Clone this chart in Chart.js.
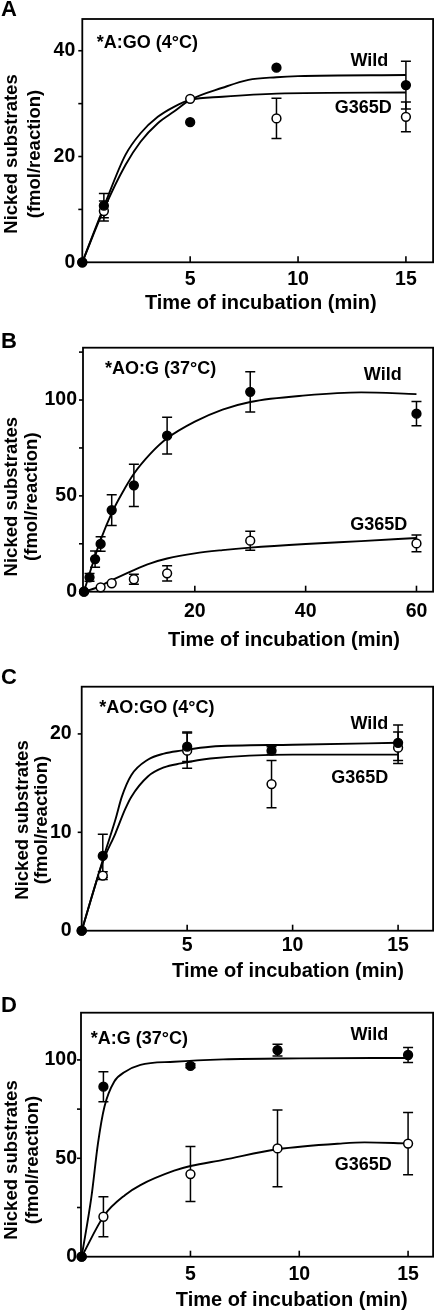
<!DOCTYPE html>
<html>
<head>
<meta charset="utf-8">
<script src="https://cdn.jsdelivr.net/npm/chart.js@4.4.1/dist/chart.umd.min.js"></script>
<style>
  html, body { margin: 0; padding: 0; background: #fff; }
  #page { position: relative; width: 439px; height: 1310px; overflow: hidden; }
  canvas { position: absolute; left: 0; }
</style>
</head>
<body>
<div id="page">
  <canvas id="chartA" width="439" height="320" style="top:0px"></canvas>
  <canvas id="chartB" width="439" height="330" style="top:320px"></canvas>
  <canvas id="chartC" width="439" height="330" style="top:650px"></canvas>
  <canvas id="chartD" width="439" height="330" style="top:980px"></canvas>
</div>
<script>
/* ========= DATA ========= */
// A  *A:GO (4°C)
const aTime = [0, 1, 5, 9, 15];
const aWild = [0, 10.7, 26.5, 36.8, 33.5];
const aWildErr = [0, 2.3, 0, 0, 4.5];
const aMut = [0, 9.7, 30.9, 27.2, 27.5];
const aMutErr = [0, 1.9, 0, 3.8, 2.8];
const aWildFitX = [0, 1, 2, 2.7, 3.5, 4.25, 5, 6.5, 7.7, 9, 10, 15];
const aWildFitY = [0, 10, 18.4, 22.8, 26.3, 28.5, 30.7, 33, 34.5, 35, 35.2, 35.4];
const aMutFitX = [0, 1, 2, 2.7, 3.5, 4.25, 5, 6.5, 9, 15];
const aMutFitY = [0, 10.5, 20.3, 24.4, 27.5, 29.4, 30.7, 31.3, 31.9, 32.1];

// B  *AO:G (37°C)
const bTime = [0, 1, 2, 3, 5, 9, 15, 30, 60];
const bWild = [0, 7.5, 17, 24.9, 42.6, 55.5, 81.4, 104.3, 92.9];
const bWildErr = [0, 2, 4.2, 3.8, 8, 11, 9.6, 10.5, 6.3];
const bMutTime = [0, 3, 5, 9, 15, 30, 60];
const bMut = [0, 2.3, 4.4, 6.5, 9.6, 26.6, 25.2];
const bMutErr = [0, 0, 0, 2.6, 4, 5, 4.4];
const bWildFitX = [0, 1, 2, 3, 5, 7, 9, 12, 15, 20, 25, 30, 40, 50, 60];
const bWildFitY = [0, 9.5, 18.5, 27, 41, 52, 61.5, 72, 80, 88.7, 95, 99, 102.4, 104, 103.1];
const bMutFitX = [0, 2, 5, 9, 12, 15, 20, 25, 30, 40, 50, 60];
const bMutFitY = [0, 1.8, 6, 11.3, 14.8, 17.3, 20, 21.7, 23, 24.9, 26.4, 28];

// C  *AO:GO (4°C)
const cTime = [0, 1, 5, 9, 15];
const cWild = [0, 7.6, 18.7, 18.3, 19.1];
const cWildErr = [0, 2.2, 1.5, 0.4, 1.8];
const cMut = [0, 5.6, 18.3, 14.9, 18.6];
const cMutErr = [0, 0.4, 1.8, 2.4, 1.6];
const cWildFitX = [0, 1.1, 1.6, 1.9, 2.35, 3.15, 3.9, 4.7, 6.1, 10, 15];
const cWildFitY = [0, 7.9, 11.3, 13.6, 15.8, 17.4, 18, 18.3, 18.7, 18.9, 19.1];
const cMutFitX = [0, 1, 1.6, 2.05, 2.35, 3.15, 3.9, 4.7, 6.1, 10, 15];
const cMutFitY = [0, 7, 9.9, 12.3, 13.6, 15.7, 16.6, 17, 17.5, 17.9, 17.9];

// D  *A:G (37°C)
const dTime = [0, 1, 5, 9, 15];
const dWild = [0, 86.4, 97, 105, 102.5];
const dWildErr = [0, 7.6, 1, 3, 3.8];
const dMut = [0, 20.3, 42, 55, 57.5];
const dMutErr = [0, 10.2, 14, 19.5, 15.8];
const dWildFitX = [0, 0.45, 0.75, 1.05, 1.5, 2, 2.7, 4.25, 6.5, 10, 15];
const dWildFitY = [0, 30.5, 57.6, 76.3, 89, 94, 97.5, 99.1, 100.3, 100.8, 101];
const dMutFitX = [0, 1.05, 2, 2.7, 4.25, 5, 6.5, 9, 12, 13, 15];
const dMutFitY = [0, 21.2, 31.4, 36.4, 43.7, 46.1, 49.2, 54.6, 57.6, 58.1, 57.6];

/* ========= DRAWING ========= */
const FONT = '"Liberation Sans", Arial, Helvetica, sans-serif';

const panelPlugin = {
  id: "panel",
  beforeDatasetsDraw(chart, args, o) {
    const { ctx, chartArea: a, scales: { x, y } } = chart;
    ctx.save();
    ctx.strokeStyle = "#000";
    ctx.lineWidth = 1.8;
    ctx.strokeRect(a.left, a.top, a.right - a.left, a.bottom - a.top);

    ctx.lineWidth = 1.6;
    y.ticks.forEach(t => {
      const py = y.getPixelForValue(t.value);
      ctx.beginPath(); ctx.moveTo(a.left - 4, py); ctx.lineTo(a.left, py); ctx.stroke();
    });
    x.ticks.forEach(t => {
      if (t.value <= 0) return;
      const px = x.getPixelForValue(t.value);
      ctx.beginPath(); ctx.moveTo(px, a.bottom); ctx.lineTo(px, a.bottom - 6); ctx.stroke();
    });

    // error bars
    ctx.lineWidth = 1.5;
    chart.data.datasets.forEach(ds => {
      if (!ds.errors) return;
      ds.data.forEach((p, i) => {
        const e = ds.errors[i];
        if (!e) return;
        const px = x.getPixelForValue(p.x);
        const top = y.getPixelForValue(p.y + e);
        const bot = y.getPixelForValue(p.y - e);
        ctx.beginPath();
        ctx.moveTo(px, top); ctx.lineTo(px, bot);
        ctx.moveTo(px - 5, top); ctx.lineTo(px + 5, top);
        ctx.moveTo(px - 5, bot); ctx.lineTo(px + 5, bot);
        ctx.stroke();
      });
    });
    ctx.restore();
  },
  afterDraw(chart, args, o) {
    const ctx = chart.ctx;
    ctx.save();
    ctx.fillStyle = "#000";
    ctx.textBaseline = "middle";

    ctx.font = `bold 22px ${FONT}`;
    ctx.textAlign = "left";
    ctx.fillText(o.letter, o.letterPos[0], o.letterPos[1]);

    ctx.font = `bold 18px ${FONT}`;
    ctx.fillText(o.note, o.notePos[0], o.notePos[1]);
    ctx.textAlign = "right";
    ctx.fillText("Wild", o.wildPos[0], o.wildPos[1]);
    ctx.fillText("G365D", o.mutPos[0], o.mutPos[1]);

    ctx.textAlign = "center";
    ctx.font = `bold 20px ${FONT}`;
    ctx.fillText("Time of incubation (min)", o.xTitle[0], o.xTitle[1]);

    ctx.font = `bold 18.5px ${FONT}`;
    ["Nicked substrates", "(fmol/reaction)"].forEach((line, i) => {
      ctx.save();
      ctx.translate(o.yTitle[i], o.yTitle[2]);
      ctx.rotate(-Math.PI / 2);
      ctx.fillText(line, 0, 0);
      ctx.restore();
    });
    ctx.restore();
  }
};

const pts = (xs, ys) => xs.map((x, i) => ({ x, y: ys[i] }));

function markers(xs, ys, errs, fill) {
  return {
    data: pts(xs, ys),
    errors: errs,
    showLine: false,
    pointRadius: 4.4,
    pointHoverRadius: 4.4,
    pointBackgroundColor: fill,
    pointBorderColor: "#000",
    pointBorderWidth: 1.5,
    clip: false
  };
}

function curve(xs, ys) {
  return {
    data: pts(xs, ys),
    showLine: true,
    pointRadius: 0,
    borderColor: "#000",
    borderWidth: 1.9,
    cubicInterpolationMode: "monotone",
    fill: false
  };
}

function makePanel(id, p) {
  const H = document.getElementById(id).height;
  const tickFont = { family: FONT, size: 19.5, weight: "bold" };
  return new Chart(document.getElementById(id), {
    type: "scatter",
    data: {
      datasets: [
        markers(p.wildX, p.wild, p.wildErr, "#000"),
        markers(p.mutX, p.mut, p.mutErr, "#fff"),
        curve(p.wildFitX, p.wildFitY),
        curve(p.mutFitX, p.mutFitY)
      ]
    },
    options: {
      responsive: false,
      animation: false,
      devicePixelRatio: 1,
      events: [],
      layout: { padding: { top: p.area[1], right: 439 - p.area[2], left: 0, bottom: 0 } },
      plugins: {
        legend: { display: false },
        tooltip: { enabled: false },
        panel: p.text
      },
      scales: {
        x: {
          type: "linear",
          min: p.xRange[0], max: p.xRange[1],
          afterFit: s => { s.height = H - p.area[3]; },
          grid: { display: false, drawTicks: false },
          border: { display: false },
          ticks: {
            stepSize: p.xStep, includeBounds: false, autoSkip: false, maxRotation: 0,
            padding: p.xPad, color: "#000", font: tickFont,
            callback: v => (v > 0 ? String(v) : "")
          }
        },
        y: {
          type: "linear",
          min: 0, max: p.yMax,
          afterFit: s => { s.width = p.area[0]; },
          grid: { display: false, drawTicks: false },
          border: { display: false },
          ticks: {
            stepSize: p.yStep, includeBounds: false, autoSkip: false,
            padding: p.yPad, color: "#000", font: tickFont,
            callback: v => (p.yLabels.includes(v) ? String(v) : "")
          }
        }
      }
    },
    plugins: [panelPlugin]
  });
}

makePanel("chartA", {
  wildX: aTime, wild: aWild, wildErr: aWildErr,
  mutX: aTime, mut: aMut, mutErr: aMutErr,
  wildFitX: aWildFitX, wildFitY: aWildFitY, mutFitX: aMutFitX, mutFitY: aMutFitY,
  area: [82.3, 19, 436.7, 262.3],
  xRange: [0, 16.26], xStep: 5, xPad: 6,
  yMax: 46, yStep: 10, yLabels: [0, 20, 40], yPad: 7,
  text: {
    letter: "A", letterPos: [1, 10],
    note: "*A:GO (4\u00B0C)", notePos: [96.7, 43.3],
    wildPos: [388.3, 61], mutPos: [391.7, 108.3],
    xTitle: [260.8, 303], yTitle: [11.7, 35, 154]
  }
});

makePanel("chartB", {
  wildX: bTime, wild: bWild, wildErr: bWildErr,
  mutX: bMutTime, mut: bMut, mutErr: bMutErr,
  wildFitX: bWildFitX, wildFitY: bWildFitY, mutFitX: bMutFitX, mutFitY: bMutFitY,
  area: [83, 27.7, 436.7, 271.7],
  xRange: [-0.18, 63], xStep: 20, xPad: 8,
  yMax: 127.3, yStep: 25, yLabels: [0, 50, 100], yPad: 6,
  text: {
    letter: "B", letterPos: [1, 22],
    note: "*AO:G (37\u00B0C)", notePos: [105, 49.3],
    wildPos: [401.7, 55], mutPos: [407.3, 205],
    xTitle: [284, 320], yTitle: [11.7, 31.7, 176.7]
  }
});

makePanel("chartC", {
  wildX: cTime, wild: cWild, wildErr: cWildErr,
  mutX: cTime, mut: cMut, mutErr: cMutErr,
  wildFitX: cWildFitX, wildFitY: cWildFitY, mutFitX: cMutFitX, mutFitY: cMutFitY,
  area: [81.7, 36.7, 436, 280.7],
  xRange: [0, 16.66], xStep: 5, xPad: 3,
  yMax: 24.8, yStep: 10, yLabels: [0, 10, 20], yPad: 10,
  text: {
    letter: "C", letterPos: [1, 28],
    note: "*AO:GO (4\u00B0C)", notePos: [99.3, 58.3],
    wildPos: [388.3, 74], mutPos: [388.3, 128.3],
    xTitle: [288, 321.7], yTitle: [23, 41.7, 170]
  }
});

makePanel("chartD", {
  wildX: dTime, wild: dWild, wildErr: dWildErr,
  mutX: dTime, mut: dMut, mutErr: dMutErr,
  wildFitX: dWildFitX, wildFitY: dWildFitY, mutFitX: dMutFitX, mutFitY: dMutFitY,
  area: [81, 32.7, 435.3, 276.7],
  xRange: [-0.03, 16.15], xStep: 5, xPad: 6,
  yMax: 124, yStep: 25, yLabels: [0, 50, 100], yPad: 4,
  text: {
    letter: "D", letterPos: [1, 26],
    note: "*A:G (37\u00B0C)", notePos: [90.7, 59],
    wildPos: [388.3, 55], mutPos: [391.7, 185],
    xTitle: [291.7, 320], yTitle: [11.7, 33, 180]
  }
});
</script>
</body>
</html>
